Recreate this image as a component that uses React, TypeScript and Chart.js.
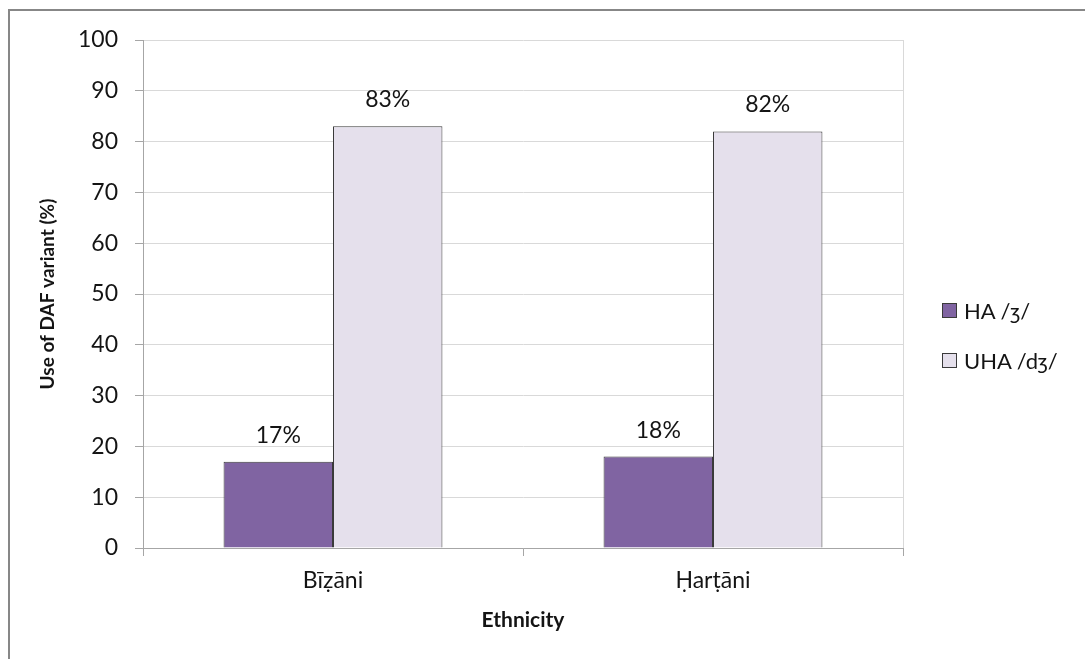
import React, { useEffect, useRef } from "react";
import { Chart, registerables } from "chart.js";

Chart.register(...registerables);

const categories = ["Bīẓāni", "Ḥarṭāni"];
const haValues = [17, 18];
const uhaValues = [83, 82];
const seriesNames = ["HA /ʒ/", "UHA /dʒ/"];
const seriesColors = ["#8064A2", "#E5E0EC"];
const yTicks = { min: 0, max: 100, step: 10 };

const FONT = "Lato, 'Open Sans', 'DejaVu Sans', sans-serif";
const TEXT = "#141414";
const AXIS = "#A6A6A6";
const GRID = "#D9D9D9";
const BAR_EDGE = "#3a3a3a";

// Percent labels above each bar, positioned from the bar element itself.
const valueLabels = {
  id: "valueLabels",
  afterDatasetsDraw(chart: Chart) {
    const { ctx } = chart;
    ctx.save();
    ctx.font = `23px ${FONT}`;
    ctx.fillStyle = TEXT;
    ctx.textAlign = "center";
    ctx.textBaseline = "alphabetic";
    chart.data.datasets.forEach((ds, di) => {
      const meta = chart.getDatasetMeta(di);
      meta.data.forEach((bar: any, i) => {
        const v = ds.data[i] as number;
        ctx.fillText(`${v}%`, bar.x, bar.y - 19);
      });
    });
    ctx.restore();
  },
};

export default function App() {
  const canvasRef = useRef<HTMLCanvasElement | null>(null);

  useEffect(() => {
    if (!canvasRef.current) return;
    const chart = new Chart(canvasRef.current, {
      type: "bar",
      data: {
        labels: categories,
        datasets: [
          {
            label: seriesNames[0],
            data: haValues,
            backgroundColor: seriesColors[0],
            borderColor: BAR_EDGE,
            borderWidth: 1,
          },
          {
            label: seriesNames[1],
            data: uhaValues,
            backgroundColor: seriesColors[1],
            borderColor: BAR_EDGE,
            borderWidth: 1,
          },
        ],
      },
      options: {
        animation: false,
        responsive: false,
        devicePixelRatio: 1,
        layout: { padding: { top: 40, right: 182, bottom: 0, left: 0 } },
        datasets: {
          bar: { categoryPercentage: 0.576, barPercentage: 1 },
        },
        plugins: {
          legend: { display: false },
          tooltip: { enabled: false },
        },
        scales: {
          x: {
            afterFit: (scale: any) => {
              scale.height = 111;
            },
            grid: {
              drawOnChartArea: true,
              drawTicks: true,
              tickLength: 8,
              tickColor: AXIS,
              color: (ctx: any) => (ctx.type === "tick" ? "transparent" : GRID),
            },
            border: { display: true, color: AXIS, width: 1 },
            ticks: {
              color: TEXT,
              font: { family: FONT, size: 23 },
              padding: 11,
            },
            title: {
              display: true,
              text: "Ethnicity",
              color: TEXT,
              font: { family: FONT, size: 21, weight: "bold" },
              padding: { top: 0, bottom: 26 },
            },
          },
          y: {
            min: yTicks.min,
            max: yTicks.max,
            afterFit: (scale: any) => {
              scale.width = 143;
            },
            grid: {
              drawTicks: true,
              tickLength: 8,
              tickColor: AXIS,
              color: (ctx: any) =>
                ctx.tick && ctx.tick.value === 0 ? AXIS : GRID,
            },
            border: { display: true, color: AXIS, width: 1 },
            ticks: {
              stepSize: yTicks.step,
              color: TEXT,
              font: { family: FONT, size: 23 },
              padding: 17,
            },
            title: {
              display: true,
              text: "Use of DAF variant (%)",
              color: TEXT,
              font: { family: FONT, size: 19, weight: "bold" },
              padding: { top: 36, bottom: 0 },
            },
          },
        },
      },
      plugins: [valueLabels],
    });
    return () => chart.destroy();
  }, []);

  return (
    <div>
      <div
        style={{
          position: "fixed",
          left: 8,
          top: 9,
          right: -40,
          bottom: -40,
          border: "2px solid #878787",
          background: "#fff",
        }}
      />
      <canvas
        ref={canvasRef}
        width={1085}
        height={659}
        style={{ position: "fixed", left: 0, top: 0, width: 1085, height: 659 }}
      />
      {seriesNames.map((name, i) => (
        <div
          key={name}
          style={{
            position: "fixed",
            left: 942,
            top: 297 + i * 50,
            height: 26,
            display: "flex",
            alignItems: "center",
            fontFamily: FONT,
            fontSize: 22,
            color: TEXT,
            whiteSpace: "nowrap",
          }}
        >
          <span
            style={{
              display: "inline-block",
              width: 13,
              height: 13,
              background: seriesColors[i],
              border: `1px solid ${BAR_EDGE}`,
              marginRight: 7,
            }}
          />
          {name}
        </div>
      ))}
    </div>
  );
}
